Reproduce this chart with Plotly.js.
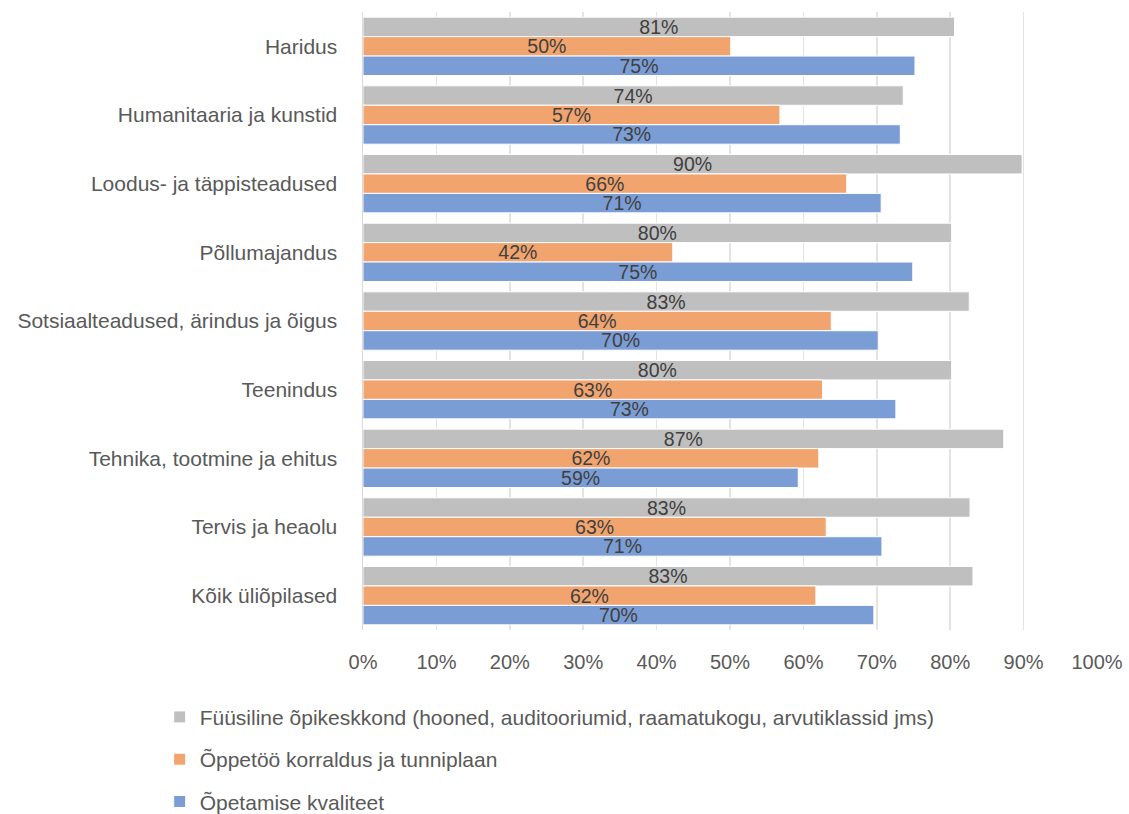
<!DOCTYPE html>
<html>
<head>
<meta charset="utf-8">
<script src="https://cdn.plot.ly/plotly-3.0.1.min.js"></script>
<style>html,body{margin:0;padding:0;background:#fff;}#chart{width:1129px;height:814px;}</style>
</head>
<body>
<div id="chart"></div>
<script>
const categories = [
  "Haridus",
  "Humanitaaria ja kunstid",
  "Loodus- ja täppisteadused",
  "Põllumajandus",
  "Sotsiaalteadused, ärindus ja õigus",
  "Teenindus",
  "Tehnika, tootmine ja ehitus",
  "Tervis ja heaolu",
  "Kõik üliõpilased"
];
const seriesNames = [
  "Füüsiline õpikeskkond (hooned, auditooriumid, raamatukogu, arvutiklassid jms)",
  "Õppetöö korraldus ja tunniplaan",
  "Õpetamise kvaliteet"
];
const fyysiline = [80.6, 73.6, 89.8, 80.2, 82.6, 80.2, 87.3, 82.7, 83.1];
const korraldus = [50.1, 56.8, 65.9, 42.2, 63.8, 62.6, 62.1, 63.1, 61.7];
const kvaliteet = [75.2, 73.2, 70.6, 74.9, 70.2, 72.6, 59.3, 70.7, 69.6];
const colors = ["#bfbfbf", "#f1a46e", "#7b9dd5"];

const FONT = "Liberation Sans, Arial, sans-serif";
const allSeries = [fyysiline, korraldus, kvaliteet];
const traces = allSeries.map((vals, i) => ({
  type: "bar",
  orientation: "h",
  name: seriesNames[i],
  y: categories,
  x: vals,
  text: vals.map(v => Math.round(v) + "%"),
  textposition: "inside",
  insidetextanchor: "middle",
  textangle: 0,
  constraintext: "none",
  cliponaxis: false,
  textfont: {family: FONT, size: 19.5, color: "#404040"},
  marker: {color: colors[i], line: {color: "#ffffff", width: 1}},
  legendgroup: "g" + i,
  hoverinfo: "skip"
}));

const layout = {
  width: 1129,
  height: 814,
  margin: {l: 363, r: 32, t: 12, b: 184, autoexpand: false},
  paper_bgcolor: "#ffffff",
  plot_bgcolor: "#ffffff",
  font: {family: FONT, size: 21, color: "#595959"},
  barmode: "group",
  bargap: 0.15,
  bargroupgap: 0,
  showlegend: true,
  legend: {
    orientation: "v",
    x: -0.277,
    xanchor: "left",
    y: -0.108,
    yanchor: "top",
    traceorder: "grouped",
    tracegroupgap: 12,
    font: {family: FONT, size: 21, color: "#595959"},
    itemwidth: 30
  },
  xaxis: {
    range: [0, 100],
    dtick: 10,
    ticksuffix: "%",
    showgrid: true,
    gridcolor: "#e3e3e3",
    gridwidth: 1.5,
    zeroline: false,
    showline: false,
    ticks: "",
    ticklabelstandoff: 18,
    tickfont: {family: FONT, size: 20, color: "#595959"},
    fixedrange: true
  },
  yaxis: {
    type: "category",
    autorange: "reversed",
    showline: true,
    linecolor: "#d9d9d9",
    linewidth: 1.5,
    showgrid: false,
    ticks: "",
    ticklabelstandoff: 20,
    tickfont: {family: FONT, size: 21, color: "#595959"},
    fixedrange: true
  }
};

Plotly.newPlot("chart", traces, layout, {displayModeBar: false, staticPlot: true});
</script>
</body>
</html>
